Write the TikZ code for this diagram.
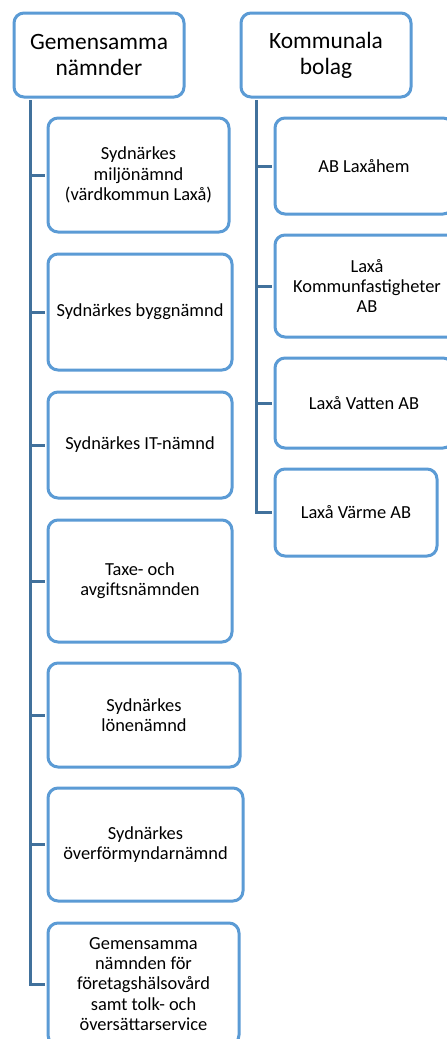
\documentclass[tikz,border=0pt]{standalone}
\usepackage{fontspec}
\setmainfont{Carlito}
\usepackage{xcolor}
\usepackage{tikz}
\usetikzlibrary{positioning}
\definecolor{boxblue}{RGB}{91,155,213}
\definecolor{linkblue}{RGB}{65,113,156}

\begin{document}
\begin{tikzpicture}[
    x=1pt, y=-1pt,
    head/.style={rectangle, rounded corners=10pt, draw=boxblue, line width=3pt, fill=white, minimum width=170pt, minimum height=84pt, inner sep=0pt, align=center, font=\fontsize{23.4}{26}\selectfont},
    unit/.style={rectangle, rounded corners=10pt, draw=boxblue, line width=3pt, fill=white, inner sep=0pt, align=center, font=\fontsize{18.4}{20.3}\selectfont},
    link/.style={draw=linkblue, line width=3pt, shorten <=1.5pt, shorten >=1.5pt}
]
    \clip (0,0) rectangle (447,1039);
    \fill[white] (0,0) rectangle (447,1039);

    % Nodes
    \node[head] (gem) at (99,55) {Gemensamma\\nämnder};
    \node[head] (kom) at (326,55) {Kommunala\\bolag};

    \node[unit, minimum width=181pt, minimum height=114pt] (miljo) at (138.5,175) {Sydnärkes\\miljönämnd\\(värdkommun Laxå)};
    \node[unit, minimum width=184pt, minimum height=116pt] (bygg) at (140,312) {Sydnärkes byggnämnd};
    \node[unit, minimum width=184pt, minimum height=106pt] (it) at (140,445) {Sydnärkes IT-nämnd};
    \node[unit, minimum width=184pt, minimum height=122pt] (taxe) at (140,581) {Taxe- och\\avgiftsnämnden};
    \node[unit, minimum width=192pt, minimum height=104pt] (lon) at (144,715) {Sydnärkes\\lönenämnd};
    \node[unit, minimum width=195pt, minimum height=113pt] (overf) at (145.5,844.5) {Sydnärkes\\överförmyndarnämnd};
    \node[unit, minimum width=191pt, minimum height=122pt] (fhv) at (143.5,984) {Gemensamma\\nämnden för\\företagshälsovård\\samt tolk- och\\översättarservice};

    \node[unit, minimum width=178pt, minimum height=96pt] (lahem) at (364,166) {AB Laxåhem};
    \node[unit, minimum width=184pt, minimum height=102pt] (kfast) at (367,286) {Laxå\\Kommunfastigheter\\AB};
    \node[unit, minimum width=178pt, minimum height=90pt] (vatten) at (364,403) {Laxå Vatten AB};
    \node[unit, minimum width=162pt, minimum height=87pt] (varme) at (356,512.5) {Laxå Värme AB};

    % Arrows
    \draw[link] ([xshift=18pt]gem.south west) |- (miljo.west);
    \draw[link] ([xshift=18pt]gem.south west) |- (bygg.west);
    \draw[link] ([xshift=18pt]gem.south west) |- (it.west);
    \draw[link] ([xshift=18pt]gem.south west) |- (taxe.west);
    \draw[link] ([xshift=18pt]gem.south west) |- (lon.west);
    \draw[link] ([xshift=18pt]gem.south west) |- (overf.west);
    \draw[link] ([xshift=18pt]gem.south west) |- (fhv.west);

    \draw[link] ([xshift=17pt]kom.south west) |- (lahem.west);
    \draw[link] ([xshift=17pt]kom.south west) |- (kfast.west);
    \draw[link] ([xshift=17pt]kom.south west) |- (vatten.west);
    \draw[link] ([xshift=17pt]kom.south west) |- (varme.west);
\end{tikzpicture}
\end{document}
